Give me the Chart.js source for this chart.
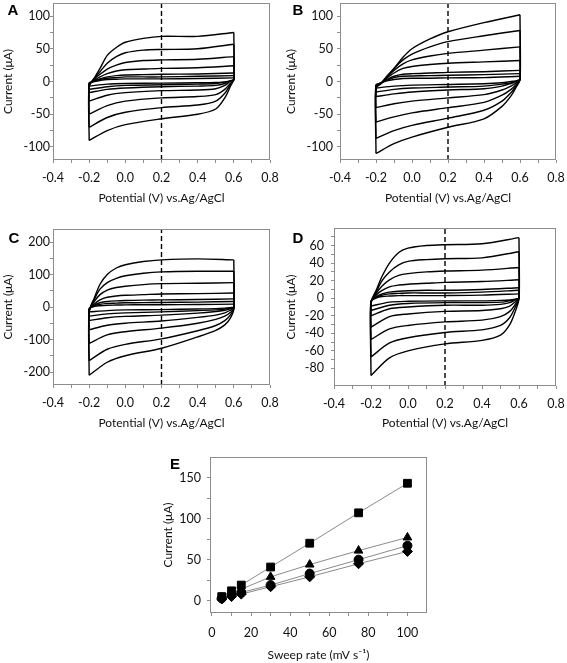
<!DOCTYPE html>
<html><head><meta charset="utf-8">
<script src="https://cdn.jsdelivr.net/npm/chart.js@4.4.0/dist/chart.umd.min.js"></script>
<style>
html,body{margin:0;padding:0;background:#fff;}
#wrap{position:relative;width:567px;height:663px;overflow:hidden;background:#fff}
canvas{position:absolute;left:0;top:0;}
</style></head><body><div id="wrap">
<canvas id="cA" width="567" height="663"></canvas>
<canvas id="cB" width="567" height="663"></canvas>
<canvas id="cC" width="567" height="663"></canvas>
<canvas id="cD" width="567" height="663"></canvas>
<canvas id="cE" width="567" height="663"></canvas>
</div>
<script>
// ---------- DATA ----------
// Potential points along one CV cycle (V): anodic sweep (-0.2 -> 0.6) then cathodic sweep (0.6 -> -0.2)
const loopX = [-0.2,-0.2,-0.17,-0.14,-0.1,-0.05,0,0.1,0.2,0.4,0.6, 0.6,0.58,0.55,0.5,0.4,0.2,0,-0.1,-0.2];
// Currents (µA) at those points, one row per sweep rate (100,75,50,30,15,10,5 mV/s)
const cvA = [
  [-90,-8,6,20,40,52,60,66,69,69,75, 4,-8,-25,-42,-50,-57,-66,-75,-90],
  [-70,-7,5,15,28,38,44,48,49,50,57, 4,-5,-18,-30,-36,-40,-47,-55,-70],
  [-50,-6,4,11,19,25,29,32,33,34,38, 3,-3,-12,-20,-23,-25,-30,-37,-50],
  [-30,-5,2,7,12,16,18,19,20,21,24, 3,0,-6,-11,-13,-14,-17,-21,-30],
  [-17,-4,1,4,7,9,10,10.5,11,11.5,13, 3,1,-3,-6,-7,-8,-10,-12,-17],
  [-12,-3,0.5,3,5,6,7,7,7,8,9, 3,1,-1,-3,-4,-5,-6,-8,-12],
  [-7,-2,0,1.5,3,3.5,4,4,4,4.5,5.5, 2,0.5,-0.5,-1.5,-2,-2.5,-3,-4,-7]
];
const cvB = [
  [-110,-10,-2,8,20,37,50,65,76,90,102, 3,-8,-22,-38,-57,-70,-85,-95,-110],
  [-87,-10,-3,7,20,33,42,53,61,70,78, 3,-6,-17,-30,-44,-56,-67,-75,-87],
  [-62,-9,-2,6,17,27,33,39,43,48,53, 3,-4,-12,-21,-32,-40,-48,-54,-62],
  [-40,-8,-2,5,13,20,23,26,28,30,32, 3,-2,-7,-13,-20,-25,-30,-34,-40],
  [-23,-7,-2,3,8,11,12,13,14,15,17, 3,0,-3,-7,-11,-13,-16,-19,-23],
  [-16,-6,-2,2,6,8,8.5,9,9.5,10.5,12, 3,1,-2,-4,-7,-8.5,-10,-12,-16],
  [-10,-5,-2,1,3,4.5,5,5,5.5,6,8, 3,1,0,-2,-3.5,-4.5,-5.5,-7,-10]
];
const cvC = [
  [-210,-15,30,70,100,120,130,140,145,148,145, -5,-35,-55,-72,-92,-127,-150,-170,-210],
  [-165,-15,25,55,75,88,96,104,108,110,110, -5,-25,-42,-57,-73,-98,-115,-130,-165],
  [-112,-12,18,38,52,60,64,69,72,73,75, -3,-17,-28,-38,-50,-65,-76,-86,-112],
  [-70,-10,10,22,30,34,36,38,40,41,43, -2,-10,-18,-25,-32,-43,-50,-56,-70],
  [-42,-8,6,13,17,19,20,21,22,23,25, -1,-6,-10,-14,-19,-25,-29,-33,-42],
  [-28,-6,4,8,11,12,13,13.5,14,15,17, 0,-3,-6,-9,-11,-15,-18,-21,-28],
  [-15,-4,2,4,5.5,6,6.5,7,7,7.5,9, 0,-2,-3.5,-5,-6,-8,-9,-11,-15]
];
const cvD = [
  [-88,-5,10,25,40,52,57,60,61,62,69, 0,-15,-30,-42,-48,-52,-60,-68,-88],
  [-67,-5,8,20,30,38,42,44,45,46,53, 0,-10,-22,-31,-36,-39,-45,-51,-67],
  [-47,-5,6,14,21,26,28,30,31,32,35, 0,-7,-15,-21,-25,-27,-31,-35,-47],
  [-33,-5,4,9,13,15,16,17,18,19,21, 0,-4,-9,-12,-14,-15,-18,-21,-33],
  [-20,-4,2,5,7,8,8.5,9,9,10,12, 0,-2,-5,-7,-8,-8,-10,-12,-20],
  [-14,-4,1,3.5,5,5.5,6,6,6,7,9, 0,-1.5,-3,-4.5,-5,-5,-6,-8,-14],
  [-9,-3,0.5,2,2.5,3,3,3,3,3.5,5, 0,-1,-2,-2.5,-3,-3,-3.5,-4.5,-9]
];
const markerPotential = 0.2;

// Panel E
const sweepRates = [5, 10, 15, 30, 50, 75, 100];
const eSquare   = [5, 12, 19, 41, 70, 107, 143];
const eTriangle = [4, 9, 14, 29, 44, 61, 77];
const eCircle   = [3, 7, 10, 19, 33, 50, 67];
const eDiamond  = [2, 5, 8, 17, 29, 45, 60];

// Ticks
const potTicks = [-0.4,-0.3,-0.2,-0.1,0,0.1,0.2,0.3,0.4,0.5,0.6,0.7,0.8];
const potLabels = [-0.4,-0.2,0,0.2,0.4,0.6,0.8];
const abTicks = [-100,-75,-50,-25,0,25,50,75,100];
const abLabels = [-100,-50,0,50,100];
const cTicks = [-200,-150,-100,-50,0,50,100,150,200];
const cLabels = [-200,-100,0,100,200];
const dTicks = [-80,-70,-60,-50,-40,-30,-20,-10,0,10,20,30,40,50,60,70];
const dLabels = [-80,-60,-40,-20,0,20,40,60];
const eYTicks = [0,25,50,75,100,125,150];
const eYLabels = [0,50,100,150];
const eXTicks = [0,10,20,30,40,50,60,70,80,90,100];
const eXLabels = [0,20,40,60,80,100];

// ---------- DRAWING ----------
const FONT = 'Lato, "Liberation Sans", sans-serif';
const TXT = '#111';
const AX = '#8c8c8c';

function framePlugin(letter, lx, ly) {
  return {
    id: 'frame' + letter,
    afterDraw(chart) {
      const {ctx, chartArea: a} = chart;
      ctx.save();
      ctx.strokeStyle = AX; ctx.lineWidth = 1;
      ctx.strokeRect(Math.round(a.left) + 0.5, Math.round(a.top) + 0.5,
                     Math.round(a.right - a.left) - 1, Math.round(a.bottom - a.top) - 1);
      ctx.fillStyle = '#000';
      ctx.font = 'bold 15px "Liberation Sans", Arial, sans-serif';
      ctx.textAlign = 'center'; ctx.textBaseline = 'middle';
      ctx.fillText(letter, lx, ly);
      ctx.restore();
    }
  };
}

function axis(o) {
  return {
    type: 'linear', position: o.position, min: o.min, max: o.max,
    afterBuildTicks: s => { s.ticks = o.ticks.map(v => ({value: v})); },
    afterFit: s => {
      if (o.width != null) s.width = o.width;
      if (o.height != null) s.height = o.height;
      s.paddingTop = 0; s.paddingBottom = 0; s.paddingLeft = 0; s.paddingRight = 0;
    },
    ticks: {
      autoSkip: false, maxRotation: 0, minRotation: 0, padding: o.pad, color: TXT,
      font: {family: FONT, size: 12.5},
      callback: v => o.labels.includes(v) ? o.fmt(v) : ''
    },
    grid: {display: true, drawOnChartArea: false, drawTicks: true, tickLength: 3, color: AX, lineWidth: 1},
    border: {display: false},
    title: {display: true, text: o.title, color: TXT, font: {family: FONT, size: 12},
            padding: {top: 1, bottom: 0}}
  };
}

function cvChart(id, curves, p) {
  const datasets = [];
  curves.forEach(ys => {
    const pts = loopX.map((x, i) => ({x, y: ys[i]}));
    [pts.slice(0, 11), pts.slice(10)].forEach(seg => datasets.push({
      data: seg, showLine: true, borderColor: '#000', borderWidth: 1.4,
      pointRadius: 0, tension: 0.3, fill: false
    }));
  });
  datasets.push({
    data: [{x: markerPotential, y: p.yMin}, {x: markerPotential, y: p.yMax}],
    showLine: true, borderColor: '#000', borderWidth: 1.4, borderDash: [5, 3],
    pointRadius: 0, tension: 0
  });
  new Chart(document.getElementById(id), {
    type: 'scatter',
    data: {datasets},
    options: {
      responsive: false, animation: false, devicePixelRatio: 1,
      layout: {padding: p.padding},
      plugins: {legend: {display: false}, tooltip: {enabled: false}},
      scales: {
        x: axis({position: 'bottom', min: -0.4, max: 0.8, ticks: potTicks, labels: potLabels,
                 fmt: v => v.toFixed(1), height: p.xH, pad: 7, title: 'Potential (V) vs.Ag/AgCl'}),
        y: axis({position: 'left', min: p.yMin, max: p.yMax, ticks: p.yTicks, labels: p.yLabels,
                 fmt: v => String(v), width: p.yW, pad: p.yPad, title: 'Current (μA)'})
      }
    },
    plugins: [framePlugin(p.letter, p.lx, p.ly)]
  });
}

cvChart('cA', cvA, {letter: 'A', lx: 13, ly: 11, yMin: -120, yMax: 120, yTicks: abTicks, yLabels: abLabels,
  yW: 53, yPad: 0, xH: 45, padding: {left: 0, top: 3, right: 297, bottom: 458}});
cvChart('cB', cvB, {letter: 'B', lx: 298, ly: 11, yMin: -120, yMax: 120, yTicks: abTicks, yLabels: abLabels,
  yW: 57, yPad: 4, xH: 45, padding: {left: 283, top: 3, right: 11, bottom: 458}});
cvChart('cC', cvC, {letter: 'C', lx: 14, ly: 239, yMin: -240, yMax: 240, yTicks: cTicks, yLabels: cLabels,
  yW: 53, yPad: 0, xH: 45, padding: {left: 0, top: 229, right: 297, bottom: 233}});
cvChart('cD', cvD, {letter: 'D', lx: 298, ly: 239, yMin: -100, yMax: 80, yTicks: dTicks, yLabels: dLabels,
  yW: 51, yPad: 7, xH: 44, padding: {left: 283, top: 228, right: 11, bottom: 233}});

function eSet(vals, style, r) {
  return {
    data: sweepRates.map((x, i) => ({x, y: vals[i]})),
    showLine: true, borderColor: '#8a8a8a', borderWidth: 1, tension: 0,
    pointStyle: style, pointRadius: r, pointBackgroundColor: '#000', pointBorderColor: '#000', pointBorderWidth: 1
  };
}
new Chart(document.getElementById('cE'), {
  type: 'scatter',
  data: {datasets: [eSet(eSquare, 'rect', 5.5), eSet(eTriangle, 'triangle', 5), eSet(eCircle, 'circle', 4.5), eSet(eDiamond, 'rectRot', 5)]},
  options: {
    responsive: false, animation: false, devicePixelRatio: 1,
    layout: {padding: {left: 160, top: 457, right: 140, bottom: 1}},
    plugins: {legend: {display: false}, tooltip: {enabled: false}},
    scales: {
      x: axis({position: 'bottom', min: -1, max: 110, ticks: eXTicks, labels: eXLabels,
               fmt: v => String(v), height: 49, pad: 9, title: 'Sweep rate (mV s⁻¹)'}),
      y: axis({position: 'left', min: -15, max: 175, ticks: eYTicks, labels: eYLabels,
               fmt: v => String(v), width: 50, pad: 6, title: 'Current (μA)'})
    }
  },
  plugins: [framePlugin('E', 175, 465)]
});
</script>
</body></html>
